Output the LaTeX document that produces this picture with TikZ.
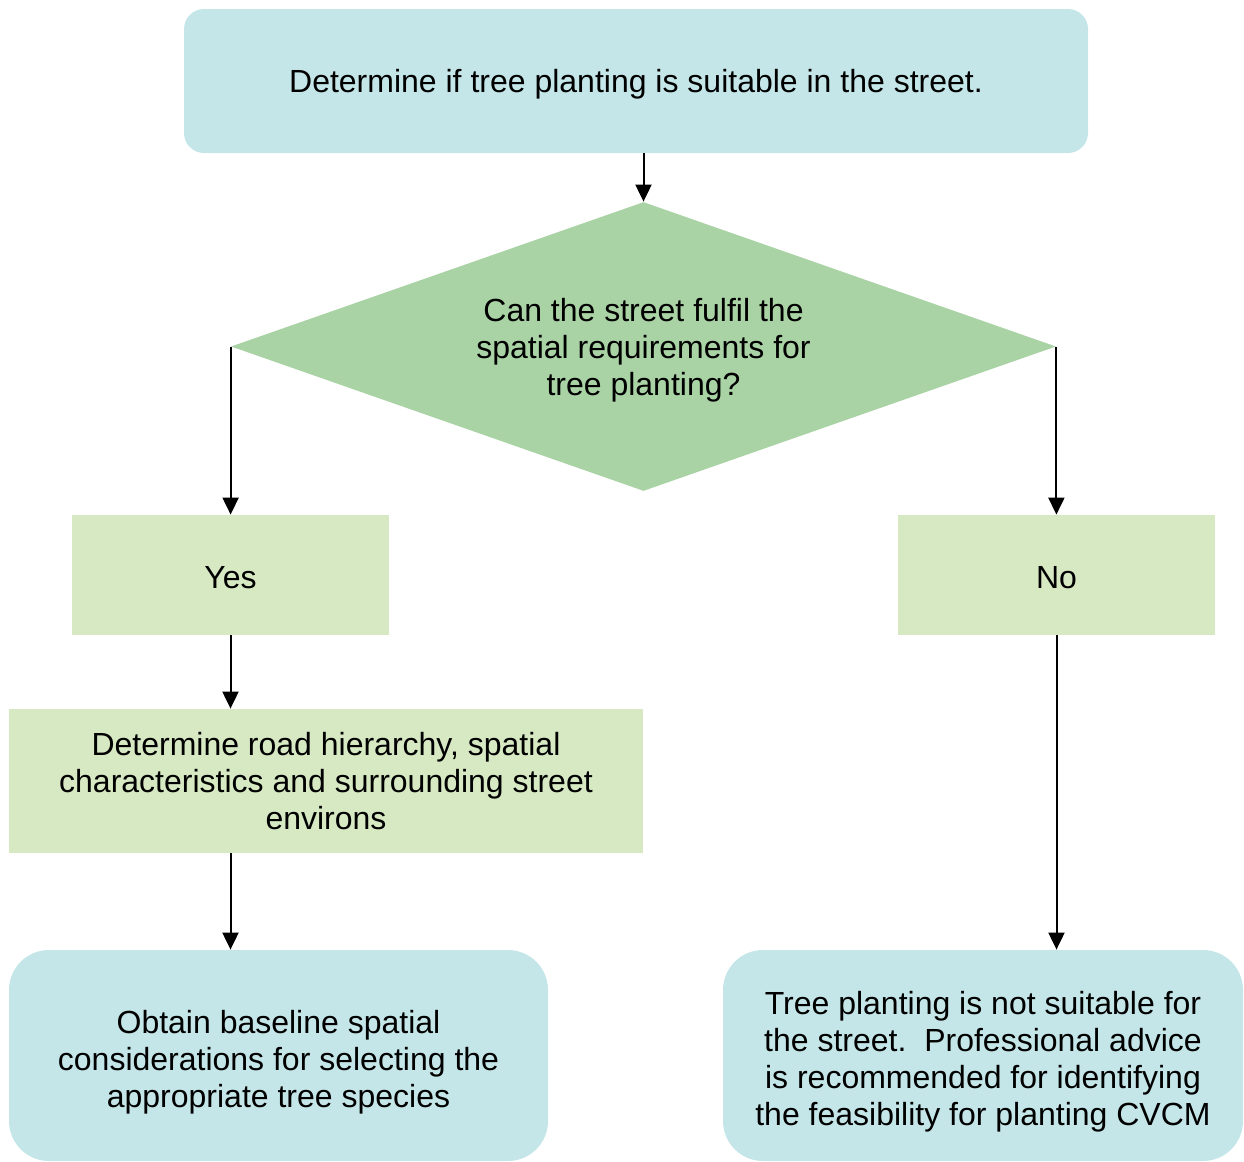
\documentclass[tikz,border=0pt]{standalone}
\usepackage{fontspec}
\setmainfont{Liberation Sans}
\usetikzlibrary{arrows.meta,positioning}
\usetikzlibrary{shapes.geometric}
\definecolor{boxblue}{HTML}{C4E6E8}
\definecolor{diagreen}{HTML}{A9D3A5}
\definecolor{boxgreen}{HTML}{D6E9C3}

\begin{document}
\begin{tikzpicture}[x=0.5pt,y=-0.5pt,
        every node/.style = {font=\fontsize{16}{18.5}\selectfont, align=center, inner sep=0, text depth=0pt},
        endbox/.style = {fill=boxblue, rounded corners=20pt},
        choice/.style = {fill=boxgreen, minimum width=158.5pt, minimum height=60pt, text height=13.9pt},
        arr/.style = {line width=1pt, -{Triangle[length=8.5pt,width=8pt]}}]

        \useasboundingbox (0,0) rectangle (1244,1162);

        % Define boxes
        \node[fill = boxblue, rounded corners = 10pt, minimum width = 452pt, minimum height = 72pt, text height = 11.2pt] (start) at (636,81) {Determine if tree planting is suitable in the street.};
        \node[diamond, aspect = 2.855, fill = diagreen, minimum width = 412.5pt, minimum height = 144.5pt, text height = 49.2pt] (ask) at (643.5,346.5) {Can the street fulfil the\\spatial requirements for\\tree planting?};
        \node[choice] (yes) at (230.5,575) {Yes};
        \node[choice] (no) at (1056.5,575) {No};
        \node[fill = boxgreen, minimum width = 317pt, minimum height = 72pt, text height = 48.6pt] (road) at (326,781) {Determine road hierarchy, spatial\\characteristics and surrounding street\\environs};
        \node[endbox, minimum width = 269.5pt, minimum height = 105.5pt, text height = 52.2pt] (obtain) at (278.5,1055.5) {Obtain baseline spatial\\considerations for selecting the\\appropriate tree species};
        \node[endbox, minimum width = 260pt, minimum height = 105.5pt, text height = 69.7pt] (advice) at (983,1055.5) {Tree planting is not suitable for\\the street.\ \ Professional advice\\is recommended for identifying\\the feasibility for planting CVCM};

        % Arrows
        \draw[arr] (ask.north |- start.south) -- (ask.north);
        \draw[arr] (ask.west) -- (ask.west |- yes.north);
        \draw[arr] (ask.east) -- (ask.east |- no.north);
        \draw[arr] (yes.south) -- (yes.south |- road.north);
        \draw[arr] (yes.south |- road.south) -- (yes.south |- obtain.north);
        \draw[arr] (no.south) -- (no.south |- advice.north);
    \end{tikzpicture}
\end{document}
